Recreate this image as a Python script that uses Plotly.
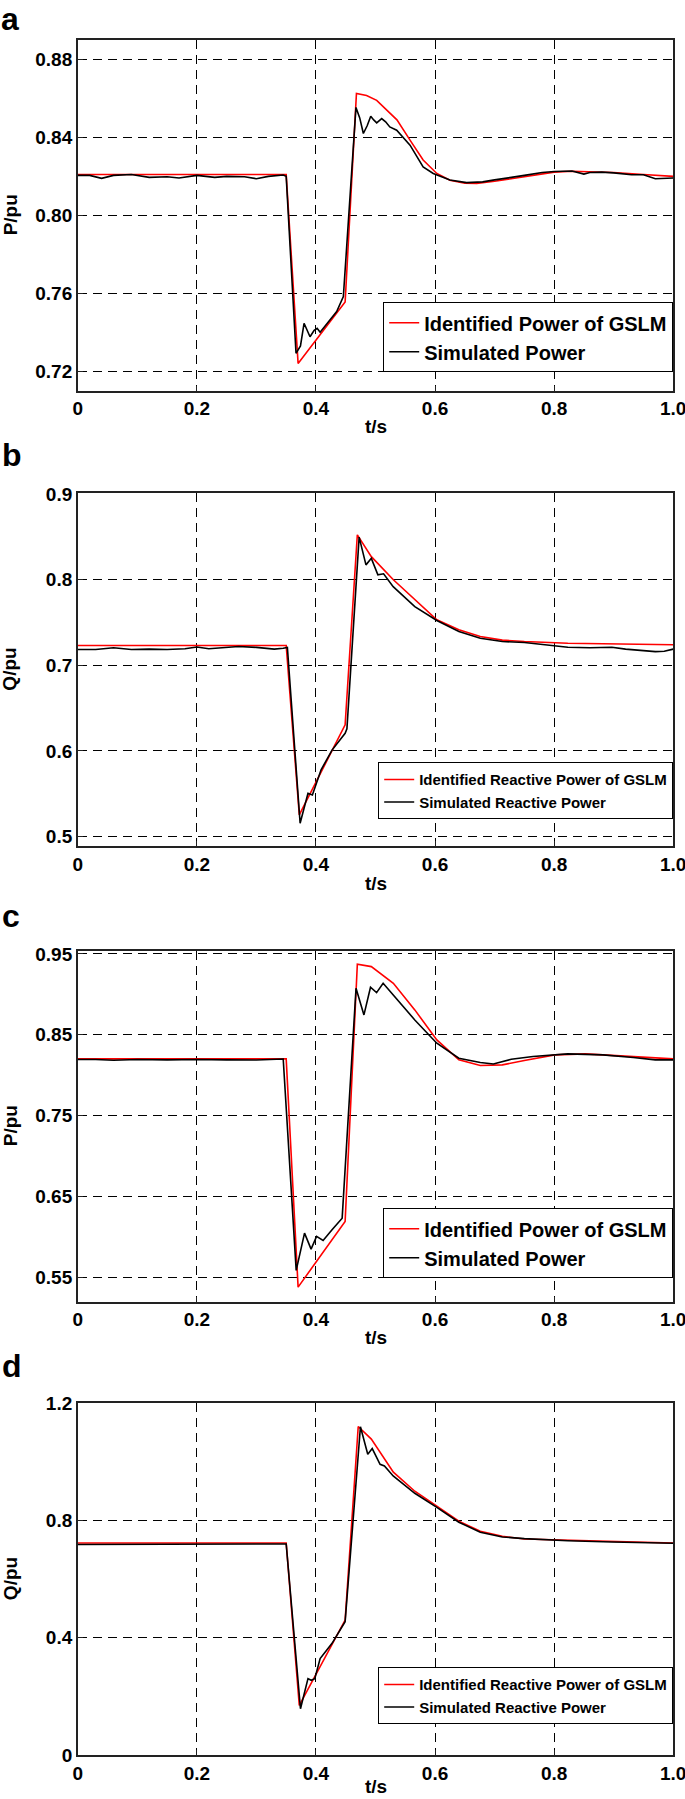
import plotly.graph_objects as go

# ---------------- data ----------------
x_tickvals = [0, 0.2, 0.4, 0.6, 0.8, 1.0]
x_ticktext = ["0", "0.2", "0.4", "0.6", "0.8", "1.0"]

# Panel a : active power (case 1)
t_a_ident = [0, 0.350, 0.370, 0.449, 0.468, 0.485, 0.502, 0.519, 0.536, 0.558, 0.580, 0.603,
             0.625, 0.650, 0.670, 0.700, 0.750, 0.800, 0.830, 0.900, 0.950, 1.0]
p_a_ident = [0.821, 0.821, 0.724, 0.7555, 0.8626, 0.8615, 0.859, 0.854, 0.849, 0.8386, 0.8284, 0.8215,
             0.8180, 0.8165, 0.8164, 0.8175, 0.8200, 0.8222, 0.8226, 0.8220, 0.8210, 0.8200]
t_a_sim = [0, 0.02, 0.04, 0.06, 0.09, 0.12, 0.15, 0.17, 0.20, 0.23, 0.25, 0.28, 0.30, 0.32, 0.345,
           0.350, 0.3665, 0.374, 0.380, 0.390, 0.397, 0.402, 0.407, 0.415, 0.4236, 0.4348, 0.446,
           0.4672, 0.4735, 0.4796, 0.486, 0.492, 0.497, 0.502, 0.5104, 0.517, 0.524, 0.5356, 0.558,
           0.580, 0.597, 0.625, 0.653, 0.680, 0.700, 0.720, 0.750, 0.780, 0.800, 0.830, 0.850, 0.860,
           0.880, 0.900, 0.930, 0.950, 0.970, 1.0]
p_a_sim = [0.8205, 0.8205, 0.8190, 0.8205, 0.8210, 0.8195, 0.8198, 0.8192, 0.8205, 0.8195, 0.8200,
           0.8198, 0.8188, 0.8200, 0.8207, 0.8200, 0.7292, 0.7330, 0.7446, 0.7377, 0.7410, 0.7420,
           0.7400, 0.7430, 0.7463, 0.7506, 0.7583, 0.8554, 0.8500, 0.8420, 0.8460, 0.8509, 0.8490,
           0.8475, 0.8497, 0.8480, 0.8454, 0.8437, 0.8360, 0.8249, 0.8215, 0.8181, 0.8168, 0.8172,
           0.8182, 0.8190, 0.8205, 0.8220, 0.8225, 0.8228, 0.8212, 0.8220, 0.8222, 0.8218, 0.8208,
           0.8208, 0.8188, 0.8192]

# Panel b : reactive power (case 1)
t_b_ident = [0, 0.350, 0.372, 0.449, 0.4695, 0.493, 0.530, 0.566, 0.603, 0.640, 0.676, 0.713,
             0.750, 0.823, 0.900, 1.0]
q_b_ident = [0.7232, 0.7232, 0.5253, 0.6305, 0.8525, 0.8270, 0.8000, 0.7765, 0.7532, 0.7415,
             0.7337, 0.7295, 0.7278, 0.7259, 0.7250, 0.7240]
t_b_sim = [0, 0.03, 0.06, 0.09, 0.12, 0.15, 0.18, 0.20, 0.22, 0.25, 0.27, 0.30, 0.33, 0.345, 0.352,
           0.3734, 0.3866, 0.394, 0.4086, 0.427, 0.449, 0.452, 0.4725, 0.484, 0.493, 0.504, 0.5136,
           0.5297, 0.566, 0.603, 0.640, 0.676, 0.713, 0.750, 0.787, 0.823, 0.860, 0.897, 0.920,
           0.940, 0.970, 0.985, 1.0]
q_b_sim = [0.7185, 0.7185, 0.7205, 0.7185, 0.7190, 0.7185, 0.7195, 0.7215, 0.7195, 0.7210, 0.7220,
           0.7210, 0.7190, 0.7200, 0.7210, 0.5156, 0.5506, 0.5487, 0.5780, 0.6010, 0.6207, 0.6260,
           0.8498, 0.8174, 0.8250, 0.8057, 0.8070, 0.7920, 0.7687, 0.7524, 0.7395, 0.7317, 0.7278,
           0.7267, 0.7240, 0.7212, 0.7205, 0.7212, 0.7190, 0.7180, 0.7160, 0.7165, 0.7190]

# Panel c : active power (case 2)
t_c_ident = [0, 0.350, 0.370, 0.449, 0.4695, 0.493, 0.530, 0.566, 0.603, 0.640, 0.676, 0.713,
             0.750, 0.801, 0.8525, 0.911, 1.0]
p_c_ident = [0.8202, 0.8202, 0.5380, 0.6192, 0.9372, 0.9343, 0.9137, 0.8808, 0.8437, 0.8190,
             0.8120, 0.8128, 0.8182, 0.8252, 0.8264, 0.8240, 0.8202]
t_c_sim = [0, 0.03, 0.06, 0.10, 0.15, 0.20, 0.25, 0.30, 0.345, 0.3668, 0.3808, 0.3918, 0.401, 0.412,
           0.427, 0.444, 0.4673, 0.4806, 0.4916, 0.5018, 0.5128, 0.5297, 0.566, 0.603, 0.640, 0.676,
           0.698, 0.728, 0.7645, 0.823, 0.882, 0.933, 0.970, 1.0]
p_c_sim = [0.8195, 0.8195, 0.8185, 0.8195, 0.8190, 0.8195, 0.8190, 0.8188, 0.8200, 0.5587, 0.6048,
           0.5850, 0.6007, 0.5957, 0.6089, 0.6233, 0.9076, 0.8746, 0.9088, 0.9022, 0.9137, 0.8993,
           0.8684, 0.8396, 0.8211, 0.8157, 0.8140, 0.8198, 0.8231, 0.8264, 0.8252, 0.8219, 0.8190,
           0.8190]

# Panel d : reactive power (case 2)
t_d_ident = [0, 0.350, 0.372, 0.449, 0.471, 0.493, 0.530, 0.566, 0.603, 0.640, 0.676, 0.713,
             0.750, 0.823, 0.897, 1.0]
q_d_ident = [0.7234, 0.7234, 0.1690, 0.4606, 1.1210, 1.0777, 0.9650, 0.9000, 0.8490, 0.7977,
             0.7634, 0.7463, 0.7370, 0.7326, 0.7280, 0.7234]
t_d_sim = [0, 0.1, 0.2, 0.3, 0.35, 0.374, 0.3866, 0.392, 0.398, 0.407, 0.427, 0.449, 0.4747, 0.487,
           0.4945, 0.5077, 0.515, 0.5297, 0.566, 0.603, 0.640, 0.676, 0.713, 0.750, 0.823, 0.897, 1.0]
q_d_sim = [0.7180, 0.7185, 0.7190, 0.7190, 0.7200, 0.1577, 0.2606, 0.2550, 0.2606, 0.3290, 0.3810,
           0.4549, 1.1200, 1.0263, 1.0457, 0.9920, 0.9860, 0.9520, 0.8930, 0.8450, 0.7943, 0.7600,
           0.7440, 0.7383, 0.7310, 0.7265, 0.7225]

# ---------------- layout helpers ----------------
W, H = 685, 1799
FONT = "Liberation Sans, Arial, Helvetica, sans-serif"
X0, X1 = 77.8, 673.2  # plot area left/right in px
LETTER_SIZE = 32

panels = [
    dict(letter="a", t1=t_a_ident, v1=p_a_ident, t2=t_a_sim, v2=p_a_sim, ylab="P/pu",
         n1="Identified Power of GSLM", n2="Simulated Power",
         yr=[0.71, 0.89], yt=[0.72, 0.76, 0.80, 0.84, 0.88],
         ytt=["0.72", "0.76", "0.80", "0.84", "0.88"],
         top=40.0, bot=390.7, leg_top=302.3, leg_font=20, base=None, xt=426.7),
    dict(letter="b", t1=t_b_ident, v1=q_b_ident, t2=t_b_sim, v2=q_b_sim, ylab="Q/pu",
         n1="Identified Reactive Power of GSLM", n2="Simulated Reactive Power",
         yr=[0.489, 0.901], yt=[0.5, 0.6, 0.7, 0.8, 0.9],
         ytt=["0.5", "0.6", "0.7", "0.8", "0.9"],
         top=493.3, bot=846.0, leg_top=762.3, leg_font=15, base=467, xt=883),
    dict(letter="c", t1=t_c_ident, v1=p_c_ident, t2=t_c_sim, v2=p_c_sim, ylab="P/pu",
         n1="Identified Power of GSLM", n2="Simulated Power",
         yr=[0.52, 0.954], yt=[0.55, 0.65, 0.75, 0.85, 0.95],
         ytt=["0.55", "0.65", "0.75", "0.85", "0.95"],
         top=950.7, bot=1301.7, leg_top=1208.3, leg_font=20, base=928, xt=1337),
    dict(letter="d", t1=t_d_ident, v1=q_d_ident, t2=t_d_sim, v2=q_d_sim, ylab="Q/pu",
         n1="Identified Reactive Power of GSLM", n2="Simulated Reactive Power",
         yr=[0, 1.2], yt=[0, 0.4, 0.8, 1.2],
         ytt=["0", "0.4", "0.8", "1.2"],
         top=1403.3, bot=1755.0, leg_top=1667.3, leg_font=15, base=1378, xt=1786.5),
]

fig = go.Figure()
annotations = []
layout = dict(
    width=W, height=H,
    margin=dict(l=0, r=0, t=0, b=0, autoexpand=False),
    paper_bgcolor="white", plot_bgcolor="white",
    font=dict(family=FONT, size=19, color="black", weight="bold"),
    showlegend=True,
)

tickfont = dict(family=FONT, size=19, color="black", weight="bold")
letter_font = dict(family=FONT, size=LETTER_SIZE, color="black", weight="bold")
label_font = dict(family=FONT, size=19, color="black", weight="bold")

for i, p in enumerate(panels):
    k = "" if i == 0 else str(i + 1)
    xa, ya = "x" + k, "y" + k
    leg = "legend" + k
    fig.add_trace(go.Scatter(x=p["t1"], y=p["v1"], mode="lines", name=p["n1"],
                             line=dict(color="#ff0000", width=1.6), xaxis=xa, yaxis=ya, legend=leg))
    fig.add_trace(go.Scatter(x=p["t2"], y=p["v2"], mode="lines", name=p["n2"],
                             line=dict(color="black", width=1.6), xaxis=xa, yaxis=ya, legend=leg))
    ydom = [1 - p["bot"] / H, 1 - p["top"] / H]
    common = dict(showline=True, mirror=True, linecolor="#222222", linewidth=1.5,
                  showgrid=True, gridcolor="black", gridwidth=1, griddash="9px,6px",
                  zeroline=False, ticks="inside", ticklen=5, tickcolor="#222222",
                  tickfont=tickfont, ticklabeloverflow="allow", fixedrange=True,
                  automargin=False)
    layout["xaxis" + k] = dict(common, domain=[X0 / W, X1 / W], range=[0, 1], anchor=ya,
                               tickvals=x_tickvals, ticktext=x_ticktext)
    layout["yaxis" + k] = dict(common, domain=ydom, range=p["yr"], anchor=xa,
                               tickvals=p["yt"], ticktext=p["ytt"])
    layout[leg] = dict(x=X1 / W, xanchor="right", y=1 - p["leg_top"] / H, yanchor="top",
                       bordercolor="black", borderwidth=1, bgcolor="white",
                       font=dict(family=FONT, size=p["leg_font"], color="black", weight="bold"),
                       tracegroupgap=0, itemwidth=30)
    # panel letter
    if p["base"] is None:
        annotations.append(dict(text=p["letter"], x=0, xref="paper", xanchor="left",
                                y=1, yref="paper", yanchor="top", borderpad=0,
                                showarrow=False, font=letter_font))
    else:
        annotations.append(dict(text=p["letter"], x=0, xref="paper", xanchor="left",
                                y=1 - (p["base"] + 0.212 * LETTER_SIZE + 1) / H, yref="paper",
                                yanchor="bottom", showarrow=False, font=letter_font))
    # y title
    annotations.append(dict(text=p["ylab"], x=10 / W, xref="paper", xanchor="center",
                            y=0.5, yref=ya + " domain", yanchor="middle", textangle=-90,
                            showarrow=False, font=label_font))
    # x title
    annotations.append(dict(text="t/s", x=0.5, xref=xa + " domain", xanchor="center",
                            y=1 - p["xt"] / H, yref="paper", yanchor="middle",
                            showarrow=False, font=label_font))

layout["annotations"] = annotations
fig.update_layout(**layout)
fig.write_html(
    "out.html",
    config={"displayModeBar": False},
    post_script="document.body.style.margin='0px';document.documentElement.style.overflow='hidden';document.body.style.overflow='hidden';",
)
